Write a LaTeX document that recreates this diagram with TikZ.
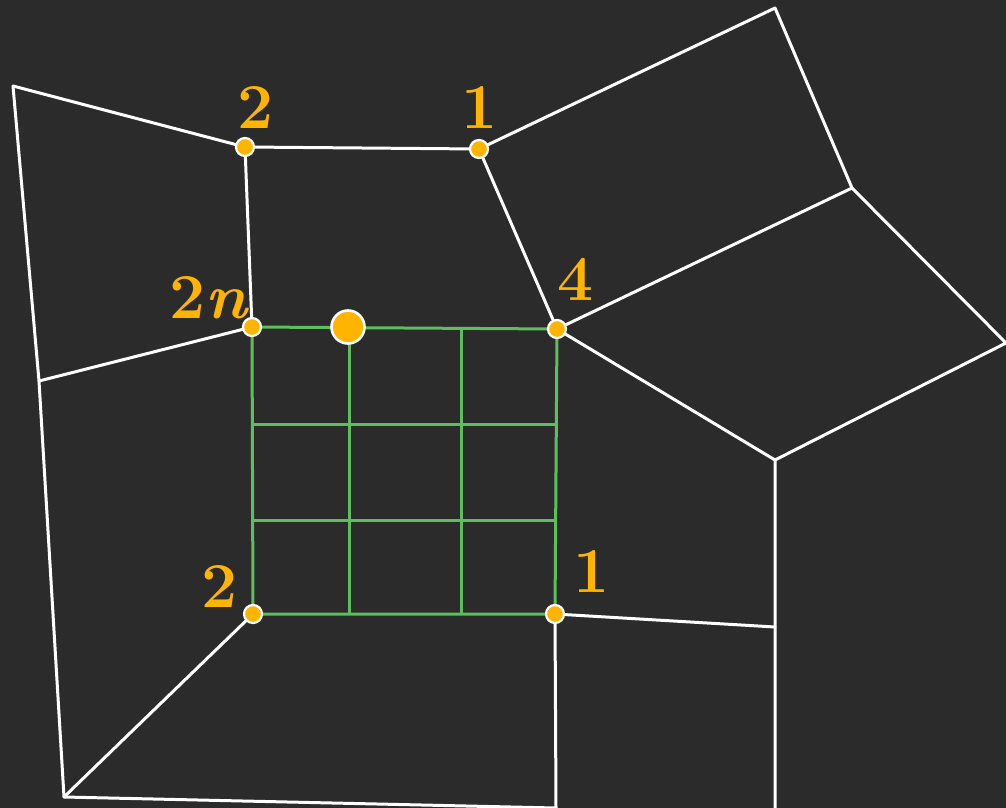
\documentclass[tikz,border=0pt]{standalone}
\usepackage{fontspec}
\definecolor{bg}{HTML}{2B2B2B}
\definecolor{dotc}{HTML}{FFB400}
\definecolor{gridc}{HTML}{5CBF5C}
\begin{document}
\begin{tikzpicture}[x=1pt,y=-1pt,
  edge/.style={white,line width=3pt,line join=round,line cap=round},
  gridline/.style={gridc,line width=3pt},
  vdot/.style={circle,fill=dotc,draw=white,line width=2.2pt,inner sep=0pt,minimum size=18pt},
  bigdot/.style={circle,fill=dotc,draw=white,line width=2.6pt,inner sep=0pt,minimum size=33pt},
  lab/.style={text=dotc,anchor=base,inner sep=0pt,font=\fontsize{64}{64}\selectfont\bfseries}]
\fill[bg] (0,0) rectangle (1006,808);
\useasboundingbox (0,0) rectangle (1006,808);
% outer vertices
\coordinate (A) at (13,86);
\coordinate (D) at (775,8);
\coordinate (E) at (852,188);
\coordinate (F) at (1006,343);
\coordinate (G) at (775,460);
\coordinate (J) at (39,381);
\coordinate (M) at (775,627);
\coordinate (N) at (64,797);
\coordinate (O) at (556,808);
\coordinate (P) at (775,808);
% inner vertices
\coordinate (B) at (245,147);
\coordinate (C) at (479,149);
\coordinate (H) at (557,329);
\coordinate (I) at (252,327);
\coordinate (K) at (253,614);
\coordinate (L) at (555,614);
% white mesh
\draw[edge] (A) -- (B) -- (C) -- (D) -- (E) -- (F) -- (G) -- (P);
\draw[edge] (C) -- (H) -- (E);
\draw[edge] (H) -- (G);
\draw[edge] (B) -- (I) -- (J);
\draw[edge] (A) -- (J) -- (N) -- (O) -- (L) -- (M);
\draw[edge] (K) -- (N);
% green grid
\coordinate (g1) at (349,327);
\coordinate (g2) at (461,328);
\coordinate (g1b) at (349,614);
\coordinate (g2b) at (461,614);
\coordinate (h1) at (252,424);
\coordinate (h1r) at (557,424);
\coordinate (h2) at (253,520);
\coordinate (h2r) at (556,520);
\draw[gridline] (I) -- (H) -- (L) -- (K) -- cycle;
\draw[gridline] (g1) -- (g1b);
\draw[gridline] (g2) -- (g2b);
\draw[gridline] (h1) -- (h1r);
\draw[gridline] (h2) -- (h2r);
% dots
\node[vdot] (dB) at (B) {};
\node[vdot] (dC) at (C) {};
\node[vdot] (dH) at (H) {};
\node[vdot] (dI) at (I) {};
\node[vdot] (dK) at (K) {};
\node[vdot] (dL) at (L) {};
\node[bigdot] (big) at (348,327) {};
% labels
\node[lab] (lB) at (256,128) {2};
\node[lab] (lC) at (480,128) {1};
\node[lab] (lH) at (576,300) {4};
\node[lab] (lI) at (209,318) {2\textit{n}};
\node[lab] (lK) at (220,607) {2};
\node[lab] (lL) at (592,592) {1};
\end{tikzpicture}
\end{document}
